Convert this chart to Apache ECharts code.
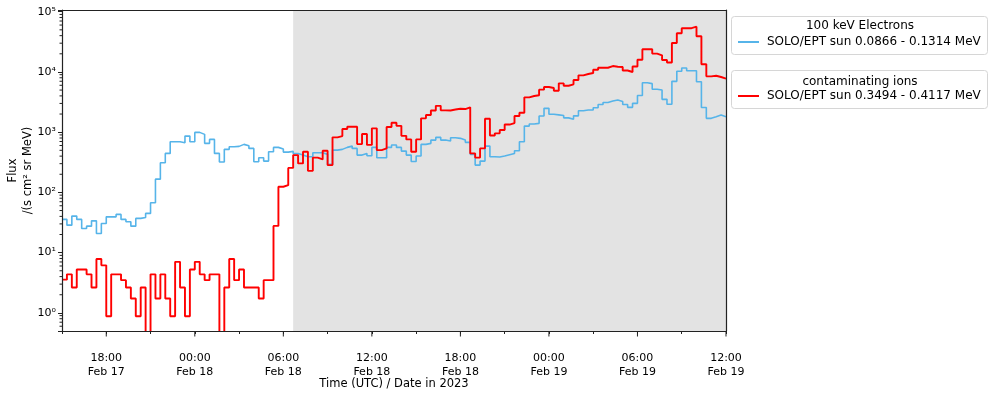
<!DOCTYPE html>
<html>
<head>
<meta charset="utf-8">
<script src="https://cdn.jsdelivr.net/npm/echarts@6.0.0/dist/echarts.min.js"></script>
<style>
  html, body { margin: 0; padding: 0; background: #fff; }
  #chart { width: 992px; height: 394px; }
</style>
</head>
<body>
<div id="chart"></div>
<script>
// Solar Orbiter EPT sun-telescope fluxes, 20-minute averages.
// x positions are hours since 2023-02-17 00:00 UTC.
const binStartHour = 15;        // first bin starts 2023-02-17 15:00 UTC
const binHours = 1 / 3;         // 20-minute bins
const endHour = 60;             // 2023-02-19 12:00 UTC
const shadeStartHour = 30 + 40 / 60; // 2023-02-18 06:40 UTC

const electronName = 'SOLO/EPT sun 0.0866 - 0.1314 MeV';
const ionName = 'SOLO/EPT sun 0.3494 - 0.4117 MeV';
const electronTitle = '100 keV Electrons';
const ionTitle = 'contaminating ions';

// 100 keV electrons, /(s cm² sr MeV)
const electronFlux = [
  35.6, 28.6, 40.4, 35.6, 25.2, 27.5, 33.7, 20.8, 30.5, 39.3,
  39.3, 43.1, 35.6, 32.5, 27.5, 37.0, 38.4, 44.8, 67.2, 166,
  310, 444, 693, 693, 667, 861, 693, 992, 919, 652,
  759, 444, 319, 518, 572, 581, 627, 594, 538, 322,
  376, 331, 472, 559, 524, 467, 480, 441, 416, 390,
  390, 455, 455, 428, 292, 504, 518, 559, 587, 538,
  416, 444, 405, 559, 376, 376, 559, 611, 559, 485,
  416, 325, 401, 627, 652, 739, 820, 739, 711, 807,
  789, 739, 677, 428, 284, 331, 587, 390, 386, 401,
  421, 441, 491, 693, 1262, 1363, 1400, 1851, 2485, 1983,
  1939, 1887, 1728, 1638, 1866, 2267, 2328, 2328, 2543, 2873,
  3102, 3285, 3413, 3223, 2873, 2582, 3009, 4055, 6617, 6392,
  5160, 5003, 3506, 2907, 6980, 10270, 11610, 10470, 10470, 6874,
  2563, 1695, 1802, 1923, 1802
];

// contaminating ions channel, /(s cm² sr MeV)
const ionFlux = [
  3.56, 4.36, 2.64, 5.26, 5.26, 4.36, 2.64, 7.86, 6.15, 0.88,
  4.36, 4.36, 3.49, 2.64, 1.73, 0.88, 2.64, 0.2, 4.36, 1.73,
  4.36, 1.73, 0.88, 7.03, 2.64, 0.88, 5.26, 7.03, 4.36, 3.49,
  4.36, 4.36, 0.2, 2.64, 7.86, 3.49, 5.26, 2.64, 2.64, 2.64,
  1.73, 3.49, 3.49, 27.8, 124, 132, 255, 416, 303, 473,
  228, 378, 353, 491, 284, 820, 861, 1126, 1229, 1229,
  634, 930, 615, 1156, 504, 538, 1215, 1432, 1272, 868,
  759, 473, 759, 1695, 1923, 2293, 2735, 2301, 2293, 2373,
  2447, 2419, 2582, 444, 378, 538, 1670, 878, 955, 1084,
  1337, 1417, 1851, 2101, 3784, 3979, 4102, 5081, 5614, 5403,
  4871, 6466, 5900, 6223, 7335, 8780, 9228, 9587, 10877, 11743,
  11743, 12531, 12200, 12060, 10552, 9961, 12293, 15946, 23740, 23740,
  20137, 18866, 15764, 14326, 30200, 43770, 53200, 53200, 56360, 39030,
  13430, 8450, 8650, 8230, 7740
];

const xTickHours = [18, 24, 30, 36, 42, 48, 54, 60];
const xTickLabels = [
  '18:00\nFeb 17', '00:00\nFeb 18', '06:00\nFeb 18', '12:00\nFeb 18',
  '18:00\nFeb 18', '00:00\nFeb 19', '06:00\nFeb 19', '12:00\nFeb 19'
];
const yTickValues = [1, 10, 100, 1000, 10000, 100000];
const yTickLabels = ['10⁰', '10¹', '10²', '10³', '10⁴', '10⁵'];
const yMin = 0.5;
const yMax = 106700;

const FONT = 'DejaVu Sans';

// step line points: each value spans its 20-minute bin
function stepPoints(values) {
  const pts = values.map((v, i) => [binStartHour + i * binHours, v]);
  pts.push([endHour, values[values.length - 1]]);
  return pts;
}

// minor log ticks (2..9 × 10^n) inside the visible range
const minorTicks = [];
for (let p = -1; p <= 4; p++) {
  for (let m = 2; m <= 9; m++) {
    const v = m * Math.pow(10, p);
    if (v > yMin && v < yMax) minorTicks.push([binStartHour, v, 0]);
  }
}
const majorXTicks = xTickHours.map(h => [h, yMin, 1]);

const chart = echarts.init(document.getElementById('chart'), null, { renderer: 'canvas' });

const frameColor = '#222';

chart.setOption({
  animation: false,
  backgroundColor: '#fff',
  textStyle: { fontFamily: FONT, color: '#000' },
  grid: {
    left: 62, top: 10, width: 664, height: 321, show: false,
    containLabel: false, outerBoundsMode: 'none'
  },
  xAxis: [{
    type: 'value', min: binStartHour, max: endHour, interval: 3, z: 10,
    name: 'Time (UTC) / Date in 2023', nameLocation: 'middle', nameGap: 47,
    nameMoveOverlap: false,
    nameTextStyle: { fontFamily: FONT, fontSize: 11.5, color: '#000' },
    axisLine: { show: true, lineStyle: { color: frameColor, width: 1.2 } },
    axisTick: { show: true, inside: false, length: 3, lineStyle: { color: frameColor, width: 1 } },
    axisLabel: {
      margin: 20, fontFamily: FONT, fontSize: 11, color: '#000', lineHeight: 14,
      formatter: v => {
        const i = xTickHours.indexOf(Math.round(v * 1000) / 1000);
        return i >= 0 ? xTickLabels[i] : '';
      }
    },
    splitLine: { show: false }
  }, {
    type: 'value', min: binStartHour, max: endHour, position: 'top', z: 10,
    axisLine: { show: true, onZero: false, lineStyle: { color: frameColor, width: 1.2 } },
    axisTick: { show: false }, axisLabel: { show: false }, splitLine: { show: false }
  }],
  yAxis: [{
    type: 'log', logBase: 10, min: yMin, max: yMax, z: 10,
    name: 'Flux\n/(s cm² sr MeV)', nameLocation: 'middle', nameGap: 26, nameRotate: 90,
    nameMoveOverlap: false,
    nameTextStyle: { fontFamily: FONT, fontSize: 11.5, color: '#000', lineHeight: 15 },
    axisLine: { show: true, lineStyle: { color: frameColor, width: 1.2 } },
    axisTick: { show: true, inside: false, length: 4, lineStyle: { color: frameColor, width: 1 } },
    axisLabel: {
      margin: 6, fontFamily: FONT, fontSize: 11, color: '#000',
      formatter: v => {
        const i = yTickValues.findIndex(t => Math.abs(Math.log10(t) - Math.log10(v)) < 1e-6);
        return i >= 0 ? yTickLabels[i] : '';
      }
    },
    splitLine: { show: false }
  }, {
    type: 'log', logBase: 10, min: yMin, max: yMax, position: 'right', z: 10,
    axisLine: { show: true, onZero: false, lineStyle: { color: frameColor, width: 1.2 } },
    axisTick: { show: false }, axisLabel: { show: false }, splitLine: { show: false }
  }],
  legend: [{
    data: [electronName], left: 738, top: 36, padding: 0, orient: 'horizontal',
    icon: 'rect', itemWidth: 21, itemHeight: 2, selectedMode: false,
    textStyle: { fontFamily: FONT, fontSize: 12, color: '#000', padding: [0, 0, 0, 3] }
  }, {
    data: [ionName], left: 738, top: 90, padding: 0, orient: 'horizontal',
    icon: 'rect', itemWidth: 21, itemHeight: 2, selectedMode: false,
    textStyle: { fontFamily: FONT, fontSize: 12, color: '#000', padding: [0, 0, 0, 3] }
  }],
  graphic: [
    { type: 'rect', z: 0, shape: { x: 731.5, y: 16.5, width: 256, height: 38, r: 3 },
      style: { fill: '#fff', stroke: '#d6d6d6', lineWidth: 1 } },
    { type: 'rect', z: 0, shape: { x: 731.5, y: 70.5, width: 256, height: 38, r: 3 },
      style: { fill: '#fff', stroke: '#d6d6d6', lineWidth: 1 } },
    { type: 'text', z: 1, x: 860, y: 25.5,
      style: { text: electronTitle, align: 'center', verticalAlign: 'middle',
               font: '12px "DejaVu Sans"', fill: '#000' } },
    { type: 'text', z: 1, x: 860, y: 81.5,
      style: { text: ionTitle, align: 'center', verticalAlign: 'middle',
               font: '12px "DejaVu Sans"', fill: '#000' } }
  ],
  series: [
    {
      // shaded interval
      name: 'shade', type: 'line', z: 1, silent: true,
      data: [[shadeStartHour, 1]], symbol: 'none', lineStyle: { opacity: 0 },
      markArea: {
        silent: true,
        itemStyle: { color: '#e3e3e3', opacity: 1 },
        data: [[{ xAxis: shadeStartHour }, { xAxis: endHour }]]
      }
    },
    {
      name: electronName, type: 'line', step: 'end', z: 3,
      data: stepPoints(electronFlux), symbol: 'none', clip: true,
      color: '#56B4E9',
      lineStyle: { color: '#56B4E9', width: 1.6 }
    },
    {
      name: ionName, type: 'line', step: 'end', z: 4,
      data: stepPoints(ionFlux), symbol: 'none', clip: true,
      color: '#ff0000',
      lineStyle: { color: '#ff0000', width: 1.9 }
    },
    {
      // minor y ticks and long x ticks at labelled times
      name: 'ticks', type: 'custom', z: 11, silent: true, clip: false,
      data: minorTicks.concat(majorXTicks),
      renderItem: (params, api) => {
        const p = api.coord([api.value(0), api.value(1)]);
        const kind = api.value(2);
        const shape = kind === 0
          ? { x1: p[0] - 2.5, y1: p[1], x2: p[0], y2: p[1] }
          : { x1: p[0], y1: p[1], x2: p[0], y2: p[1] + 5.5 };
        return { type: 'line', shape: shape, style: { stroke: frameColor, lineWidth: 1 } };
      }
    }
  ]
});
</script>
</body>
</html>
